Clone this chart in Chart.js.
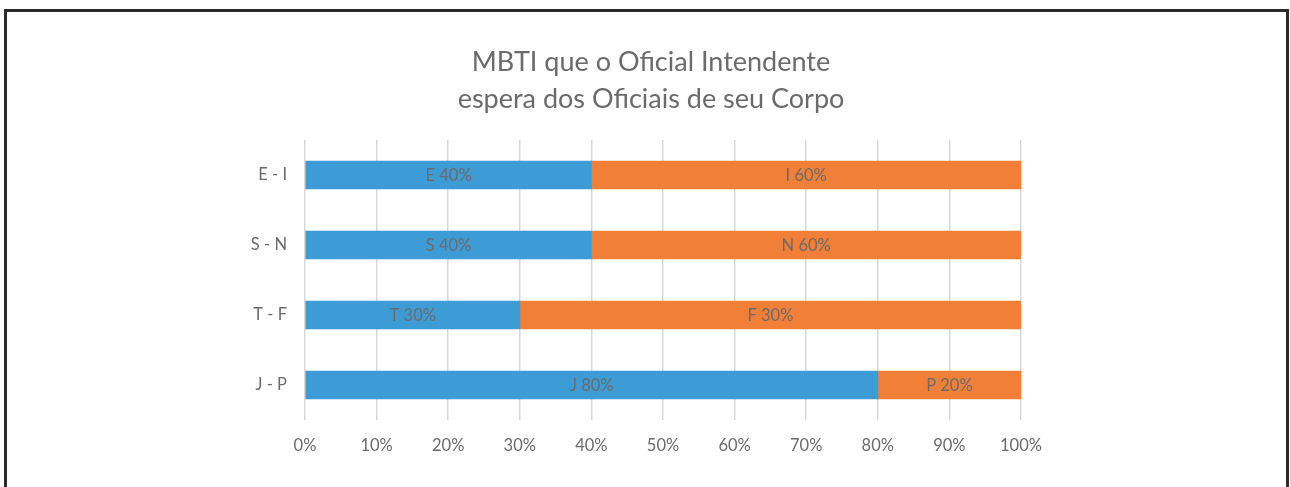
<!DOCTYPE html>
<html lang="pt">
<head>
    <meta charset="UTF-8">
    <script src="https://cdn.jsdelivr.net/npm/chart.js"></script>
    <title>MBTI</title>
    <style>
        body { margin: 0; background: #fff; }
        #wrap { position: relative; width: 1290px; height: 487px; overflow: hidden; }
        #frame {
            position: absolute; left: 4px; top: 9px; width: 1285px; height: 490px;
            box-sizing: border-box; border: 3px solid #2b2b2b; border-bottom: none;
            pointer-events: none;
        }
        #title {
            position: absolute; left: 0; top: 42px; width: 1302px;
            text-align: center; color: #6b6b6b;
            font-family: Lato, "Open Sans", sans-serif; font-size: 27px; line-height: 37px;
        }
        canvas { position: absolute; left: 0; top: 0; }
    </style>
</head>
<body>
<div id="wrap">
    <canvas id="mbti" width="1290" height="487"></canvas>
    <div id="title">MBTI que o Oficial Intendente<br>espera dos Oficiais de seu Corpo</div>
    <div id="frame"></div>
</div>

<script>
    // data
    const categories = ['E - I', 'S - N', 'T - F', 'J - P'];
    const leftValues = [40, 40, 30, 80];
    const rightValues = [60, 60, 70, 20];
    const leftLabels = ['E 40%', 'S 40%', 'T 30%', 'J 80%'];
    const rightLabels = ['I 60%', 'N 60%', 'F 30%', 'P 20%'];
    const xTicks = [0, 10, 20, 30, 40, 50, 60, 70, 80, 90, 100];

    const FONT = 'Lato, "Open Sans", sans-serif';
    const GREY = '#6b6b6b';

    // draws the text labels in the middle of each bar segment
    const barLabels = {
        id: 'barLabels',
        afterDatasetsDraw(chart) {
            const ctx = chart.ctx;
            ctx.save();
            ctx.font = '16.5px ' + FONT;
            ctx.fillStyle = GREY;
            ctx.textAlign = 'center';
            ctx.textBaseline = 'middle';
            chart.data.datasets.forEach((ds, i) => {
                chart.getDatasetMeta(i).data.forEach((bar, j) => {
                    const p = bar.getProps(['x', 'y', 'base'], true);
                    ctx.fillText(ds.texts[j], (p.x + p.base) / 2, p.y + 1);
                });
            });
            ctx.restore();
        }
    };

    new Chart(document.getElementById('mbti'), {
        type: 'bar',
        data: {
            labels: categories,
            datasets: [
                { data: leftValues, texts: leftLabels, backgroundColor: '#3d9bd5', barThickness: 28 },
                { data: rightValues, texts: rightLabels, backgroundColor: '#f27f38', barThickness: 28 }
            ]
        },
        options: {
            indexAxis: 'y',
            responsive: false,
            animation: false,
            layout: { padding: { left: 205, right: 269, top: 140, bottom: 0 } },
            plugins: {
                legend: { display: false },
                tooltip: { enabled: false },
                title: { display: false }
            },
            scales: {
                x: {
                    stacked: true,
                    min: 0,
                    max: 100,
                    afterBuildTicks: s => { s.ticks = xTicks.map(v => ({ value: v })); },
                    ticks: {
                        color: GREY,
                        font: { family: FONT, size: 16.5 },
                        padding: 16,
                        callback: v => v + '%'
                    },
                    grid: { color: '#d9d9d9', lineWidth: 1.5, drawTicks: false },
                    border: { display: false },
                    afterFit: s => { s.height = 67; }
                },
                y: {
                    stacked: true,
                    ticks: {
                        color: GREY,
                        font: { family: FONT, size: 16.5 },
                        padding: 18
                    },
                    grid: { display: false, drawTicks: false },
                    border: { display: false },
                    afterFit: s => { s.width = 100; }
                }
            }
        },
        plugins: [barLabels]
    });
</script>
</body>
</html>
